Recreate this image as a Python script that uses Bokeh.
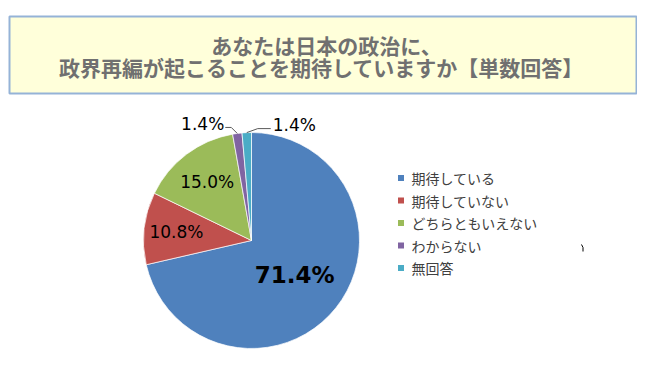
import math
from bokeh.plotting import figure
from bokeh.models import Range1d, ColumnDataSource
from bokeh.core.properties import value
from bokeh.embed import file_html
from bokeh.resources import INLINE

# ---- data ----
title_lines = ["あなたは日本の政治に、", "政界再編が起こることを期待していますか【単数回答】"]
categories = ["期待している", "期待していない", "どちらともいえない", "わからない", "無回答"]
values = [71.4, 10.8, 15.0, 1.4, 1.4]
colors = ["#4F81BD", "#C0504D", "#9BBB59", "#8064A2", "#4BACC6"]

# ---- layout (reference pixel coords; data y = 378 - y_ref) ----
W, H = 637, 370
def Y(y):
    return 378 - y

p = figure(width=W, height=H, output_backend="svg", toolbar_location=None,
           x_range=Range1d(0, 637), y_range=Range1d(8, 378), min_border=0)
p.axis.visible = False
p.grid.visible = False
p.outline_line_color = None
p.background_fill_color = "white"
p.border_fill_color = "white"

# title box
p.quad(left=[9], right=[636], top=[Y(16)], bottom=[Y(93)],
       fill_color="#FFFFDA", line_color="#95B3D7", line_width=2)
p.text(x=[326, 321], y=[Y(44), Y(66)], text=title_lines,
       text_font=value("Noto Sans CJK JP"), text_font_style="bold",
       text_font_size="21px", text_color="#707070",
       text_align="center", text_baseline="middle")

# pie
cx, cy, r = 251, Y(240), 108
total = sum(values)
starts, ends, mids = [], [], []
cum = 0.0
for v in values:
    a0 = math.pi / 2 - 2 * math.pi * cum / total
    cum += v
    a1 = math.pi / 2 - 2 * math.pi * cum / total
    starts.append(a0)
    ends.append(a1)
    mids.append((a0 + a1) / 2)

src = ColumnDataSource(dict(start=starts, end=ends, color=colors))
p.wedge(x=cx, y=cy, radius=r, start_angle="start", end_angle="end",
        direction="clock", fill_color="color", line_color="white",
        line_width=0.7, source=src)

labels = [f"{v:.1f}%" for v in values]
# inside labels
factors = [0.51, 0.70, 0.68]
for i, f in enumerate(factors):
    lx = cx + f * r * math.cos(mids[i])
    ly = cy + f * r * math.sin(mids[i])
    p.text(x=[lx], y=[ly], text=[labels[i]],
           text_font=value("DejaVu Sans"),
           text_font_style="bold" if i == 0 else "normal",
           text_font_size="23px" if i == 0 else "17px",
           text_color="black", text_align="center", text_baseline="middle")

# outside labels with leader lines
ex3 = cx + r * math.cos(mids[3]); ey3 = cy + r * math.sin(mids[3])
ex4 = cx + r * math.cos(mids[4]); ey4 = cy + r * math.sin(mids[4])
p.line(x=[ex3, ex3 - 6, ex3 - 12], y=[ey3, ey3 + 6, ey3 + 6],
       line_color="#5A5A5A", line_width=1)
p.line(x=[ex4, ex4 + 11, ex4 + 24], y=[ey4, ey4 + 4, ey4 + 4],
       line_color="#5A5A5A", line_width=1)
p.text(x=[ex3 - 13], y=[ey3 + 9], text=[labels[3]],
       text_font=value("DejaVu Sans"), text_font_size="17px",
       text_color="black", text_align="right", text_baseline="middle")
p.text(x=[ex4 + 26], y=[ey4 + 8], text=[labels[4]],
       text_font=value("DejaVu Sans"), text_font_size="17px",
       text_color="black", text_align="left", text_baseline="middle")

# legend
ly = [Y(177.5 + i * 22.5) for i in range(len(categories))]
p.rect(x=[400.5] * len(categories), y=ly, width=6, height=6,
       fill_color=colors, line_color=None)
p.text(x=[411] * len(categories), y=ly, text=categories,
       text_font=value("Noto Sans CJK JP"), text_font_size="14px",
       text_color="#404040", text_align="left", text_baseline="middle")

# stray mark
p.line(x=[581, 582.5, 582.5], y=[Y(244), Y(247), Y(251)],
       line_color="black", line_width=1)

open("out.html", "w").write(file_html(p, INLINE))
